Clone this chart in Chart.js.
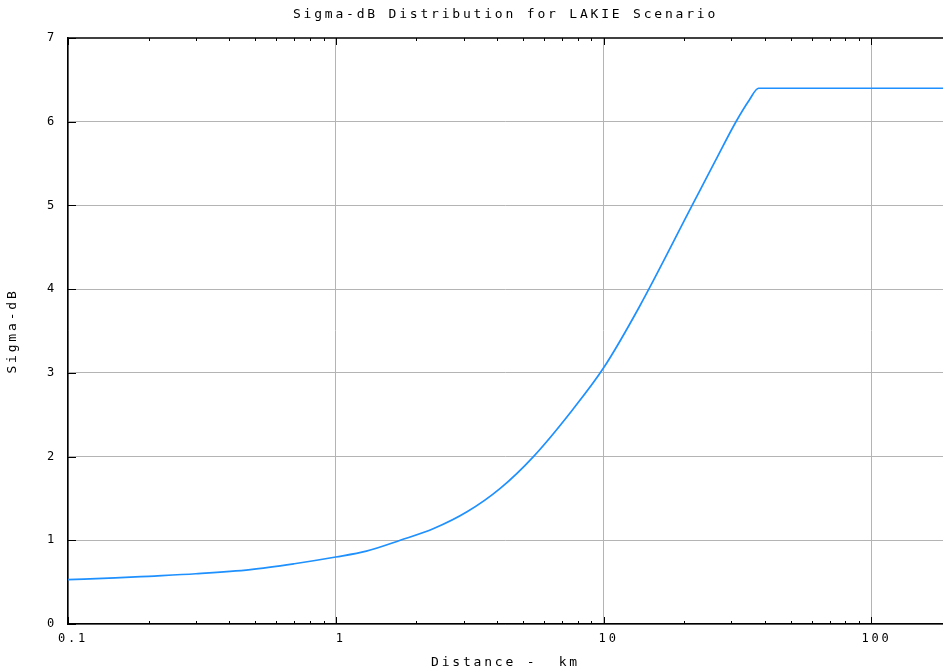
<!DOCTYPE html>
<html>
<head>
<meta charset="utf-8">
<script src="https://cdn.jsdelivr.net/npm/chart.js@4.4.1/dist/chart.umd.min.js"></script>
<style>
  body { margin: 0; background: #fff; }
  #wrap { width: 943px; height: 671px; }
</style>
</head>
<body>
<div id="wrap"><canvas id="sigma_chart" width="943" height="671"></canvas></div>
<script>
// values
const distanceKm = [0.1, 0.15, 0.2, 0.3, 0.48, 0.7, 1, 1.3, 1.74, 2.32, 3.09, 4.11, 5.47, 7.66, 10, 13.6, 21.4, 26, 31.2, 35, 37.9, 100, 185]
const sigmaDb = [0.53, 0.55, 0.57, 0.60, 0.65, 0.72, 0.80, 0.87, 1.0, 1.14, 1.34, 1.62, 2.0, 2.56, 3.06, 3.79, 5.0, 5.52, 6.0, 6.26, 6.4, 6.4, 6.4]
const xLabelTicks = [0.1, 1, 10, 100]
const xMin = 0.1, xMax = 185
const yMin = 0, yMax = 7

const monoFont = "'DejaVu Sans Mono', 'Liberation Mono', monospace"

function isDecade(v) {
    return xLabelTicks.some(t => Math.abs(t - v) < 1e-9)
}

const spacing = {
    id: 'spacing',
    beforeUpdate(chart) { chart.ctx.letterSpacing = '2.8px' },
    beforeDraw(chart) { chart.ctx.letterSpacing = '2.8px' },
}

// inward tick marks like the original plot, plus the top frame line
const innerTicks = {
    id: 'innerTicks',
    afterDraw(chart) {
        const { ctx, chartArea: a, scales: { x, y } } = chart
        ctx.save()
        ctx.strokeStyle = '#000'
        ctx.lineWidth = 1
        ctx.beginPath()
        x.ticks.forEach(t => {
            const v = t.value
            const e = Math.floor(Math.log10(v) + 1e-9)
            const s = v / Math.pow(10, e)
            if (Math.abs(s - Math.round(s)) > 1e-6) return
            const len = Math.round(s) === 1 ? 7 : 3
            const px = Math.round(x.getPixelForValue(v)) + 0.5
            ctx.moveTo(px, a.bottom)
            ctx.lineTo(px, a.bottom - len)
            ctx.moveTo(px, a.top)
            ctx.lineTo(px, a.top + len)
        })
        y.ticks.forEach(t => {
            const py = Math.round(y.getPixelForValue(t.value)) + 0.5
            ctx.moveTo(a.left, py)
            ctx.lineTo(a.left + 8, py)
        })
        ctx.stroke()
        ctx.lineWidth = 1.5
        ctx.beginPath()
        ctx.moveTo(a.left, a.top)
        ctx.lineTo(a.right, a.top)
        ctx.stroke()
        ctx.restore()
    }
}

const canvas = document.querySelector('#sigma_chart')

new Chart(canvas, {
    type: 'line',
    data: {
        datasets: [{
            data: distanceKm.map((d, i) => ({ x: d, y: sigmaDb[i] })),
            borderColor: '#1e90ff',
            backgroundColor: '#1e90ff',
            borderWidth: 1.7,
            pointRadius: 0,
            cubicInterpolationMode: 'monotone',
            fill: false,
        }]
    },
    plugins: [spacing, innerTicks],
    options: {
        responsive: false,
        animation: false,
        layout: { padding: 0 },
        plugins: {
            legend: { display: false },
            tooltip: { enabled: false },
            title: { display: false },
        },
        scales: {
            x: {
                type: 'logarithmic',
                min: xMin,
                max: xMax,
                afterFit: (scale) => {
                    scale.height = 47
                    scale.paddingLeft = 0
                    scale.paddingRight = 0
                },
                border: { color: '#000', width: 1.5 },
                grid: {
                    drawTicks: false,
                    color: (c) => c.tick && isDecade(c.tick.value) ? '#b4b4b4' : 'rgba(0,0,0,0)',
                    lineWidth: 1,
                },
                ticks: {
                    autoSkip: false,
                    maxRotation: 0,
                    padding: 8,
                    labelOffset: 5,
                    color: '#000',
                    font: { family: monoFont, size: 12 },
                    callback: (v) => isDecade(v) ? String(v) : '',
                },
                title: {
                    display: true,
                    text: 'Distance -  km',
                    color: '#000',
                    font: { family: monoFont, size: 13 },
                    padding: { top: 0, bottom: 1 },
                },
            },
            // top axis only carries the chart title, centred over the plot area
            top: {
                type: 'logarithmic',
                position: 'top',
                min: xMin,
                max: xMax,
                afterFit: (scale) => {
                    scale.height = 38
                    scale.paddingLeft = 0
                    scale.paddingRight = 0
                },
                border: { display: false },
                grid: { display: false },
                ticks: { display: false },
                title: {
                    display: true,
                    text: 'Sigma-dB Distribution for LAKIE Scenario',
                    color: '#000',
                    font: { family: monoFont, size: 13 },
                    padding: { top: 7, bottom: 0 },
                },
            },
            y: {
                min: yMin,
                max: yMax,
                afterFit: (scale) => { scale.width = 68 },
                border: { color: '#000', width: 1.5 },
                grid: {
                    drawTicks: false,
                    color: (c) => c.tick && c.tick.value === yMax ? 'rgba(0,0,0,0)' : '#b4b4b4',
                    lineWidth: 1,
                },
                ticks: {
                    stepSize: 1,
                    padding: 11,
                    color: '#000',
                    font: { family: monoFont, size: 12 },
                },
                title: {
                    display: true,
                    text: 'Sigma-dB',
                    color: '#000',
                    font: { family: monoFont, size: 13 },
                    padding: { top: 5, bottom: 0 },
                },
            },
        },
    }
})
</script>
</body>
</html>
